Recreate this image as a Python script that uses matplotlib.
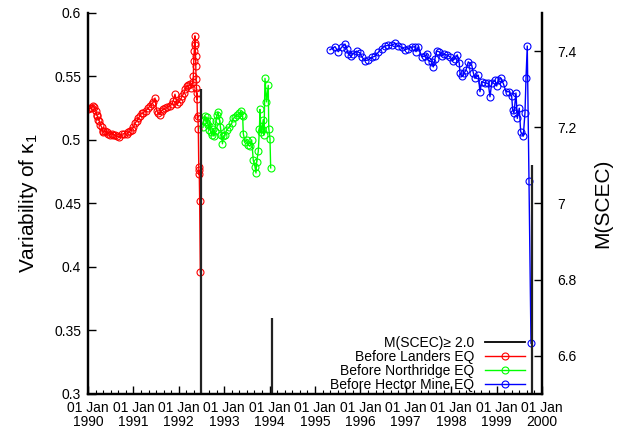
import matplotlib
matplotlib.use("Agg")
import matplotlib.pyplot as plt
from matplotlib.lines import Line2D
from matplotlib.ticker import FixedLocator, MultipleLocator

plt.rcParams['font.family'] = ['Liberation Sans', 'DejaVu Sans']
plt.rcParams['mathtext.fontset'] = 'custom'
plt.rcParams['mathtext.rm'] = 'Liberation Sans'
plt.rcParams['mathtext.it'] = 'Liberation Sans'

# times are decimal years
landers_t = [1990.007, 1990.045, 1990.081, 1990.11, 1990.139, 1990.176, 1990.19, 1990.205,
             1990.23, 1990.249, 1990.275, 1990.302, 1990.32, 1990.337, 1990.375, 1990.412,
             1990.45, 1990.485, 1990.52, 1990.56, 1990.595, 1990.64, 1990.689, 1990.742,
             1990.80, 1990.852, 1990.89, 1990.925, 1990.96, 1990.998, 1991.035, 1991.073,
             1991.11, 1991.145, 1991.18, 1991.218, 1991.27, 1991.328, 1991.365, 1991.403,
             1991.44, 1991.476, 1991.513, 1991.55, 1991.586, 1991.62, 1991.659, 1991.70,
             1991.747, 1991.80, 1991.844, 1991.88, 1991.916, 1991.967, 1992.00, 1992.042,
             1992.08, 1992.115, 1992.145, 1992.174, 1992.21, 1992.247, 1992.28, 1992.306,
             1992.32, 1992.33, 1992.34, 1992.35, 1992.355, 1992.36, 1992.37, 1992.375,
             1992.38, 1992.39, 1992.395, 1992.40, 1992.41, 1992.42, 1992.43, 1992.44,
             1992.445, 1992.45, 1992.46, 1992.475]
landers_v = [0.524, 0.525, 0.525, 0.527, 0.526, 0.523, 0.520, 0.519,
             0.516, 0.515, 0.512, 0.510, 0.507, 0.506, 0.507, 0.506,
             0.505, 0.504, 0.505, 0.504, 0.504, 0.503, 0.502, 0.5045,
             0.505, 0.5045, 0.506, 0.507, 0.508, 0.510, 0.513, 0.515,
             0.517, 0.519, 0.521, 0.5215, 0.523, 0.525, 0.527, 0.528,
             0.530, 0.533, 0.523, 0.521, 0.520, 0.523, 0.524, 0.525,
             0.526, 0.527, 0.528, 0.531, 0.536, 0.528, 0.530, 0.532,
             0.535, 0.537, 0.540, 0.5425, 0.543, 0.544, 0.541, 0.546,
             0.550, 0.562, 0.570, 0.576, 0.582, 0.575, 0.566, 0.558,
             0.548, 0.541, 0.532, 0.537, 0.5175, 0.519, 0.509, 0.479,
             0.473, 0.476, 0.452, 0.396]

northridge_t = [1992.533, 1992.555, 1992.577, 1992.599, 1992.621, 1992.643, 1992.665, 1992.687,
                1992.709, 1992.731, 1992.753, 1992.775, 1992.797, 1992.819, 1992.841, 1992.863,
                1992.896, 1992.918, 1992.940, 1992.962, 1992.984, 1993.017, 1993.055, 1993.112,
                1993.165, 1993.200, 1993.238, 1993.289, 1993.333, 1993.363, 1993.385, 1993.407,
                1993.421, 1993.458, 1993.496, 1993.531, 1993.568, 1993.606, 1993.641, 1993.678,
                1993.700, 1993.716, 1993.751, 1993.777, 1993.788, 1993.810, 1993.832, 1993.861,
                1993.877, 1993.899, 1993.932, 1993.971, 1993.982, 1994.009, 1994.024]
northridge_v = [0.510, 0.516, 0.519, 0.514, 0.518, 0.512, 0.508, 0.515,
                0.506, 0.504, 0.509, 0.503, 0.507, 0.515, 0.520, 0.522,
                0.516, 0.510, 0.504, 0.497, 0.503, 0.504, 0.508, 0.510,
                0.513, 0.517, 0.518, 0.520, 0.521, 0.5225, 0.520, 0.519,
                0.505, 0.4985, 0.500, 0.496, 0.495, 0.500, 0.484, 0.479,
                0.474, 0.483, 0.491, 0.509, 0.524, 0.506, 0.509, 0.516,
                0.504, 0.5485, 0.530, 0.543, 0.509, 0.501, 0.478]

hector_t = [1995.330, 1995.441, 1995.513, 1995.588, 1995.661, 1995.698, 1995.733, 1995.786,
            1995.844, 1995.919, 1995.991, 1996.029, 1996.101, 1996.174, 1996.249, 1996.322,
            1996.394, 1996.469, 1996.542, 1996.615, 1996.689, 1996.762, 1996.835, 1996.910,
            1996.982, 1997.055, 1997.130, 1997.203, 1997.225, 1997.275, 1997.350, 1997.423,
            1997.460, 1997.496, 1997.571, 1997.606, 1997.643, 1997.681, 1997.738, 1997.791,
            1997.841, 1997.901, 1997.974, 1998.033, 1998.084, 1998.134, 1998.178, 1998.194,
            1998.231, 1998.282, 1998.326, 1998.377, 1998.452, 1998.487, 1998.524, 1998.597,
            1998.634, 1998.672, 1998.744, 1998.817, 1998.855, 1998.892, 1998.965, 1999.002,
            1999.037, 1999.090, 1999.148, 1999.207, 1999.280, 1999.333, 1999.355, 1999.383,
            1999.427, 1999.456, 1999.500, 1999.531, 1999.588, 1999.626, 1999.648, 1999.676,
            1999.714, 1999.758]
hector_v = [0.571, 0.5735, 0.5695, 0.573, 0.5755, 0.572, 0.568, 0.566,
            0.568, 0.570, 0.5685, 0.5655, 0.5625, 0.563, 0.565, 0.566,
            0.569, 0.572, 0.574, 0.5745, 0.5745, 0.576, 0.574, 0.573,
            0.571, 0.572, 0.573, 0.5735, 0.5695, 0.5735, 0.5655, 0.566,
            0.5675, 0.5625, 0.5615, 0.5575, 0.564, 0.570, 0.5695, 0.566,
            0.5675, 0.567, 0.5655, 0.5625, 0.564, 0.567, 0.5605, 0.5525,
            0.550, 0.5525, 0.555, 0.5615, 0.559, 0.553, 0.5485, 0.551,
            0.538, 0.546, 0.545, 0.5445, 0.534, 0.5445, 0.547, 0.5425,
            0.5475, 0.5485, 0.5445, 0.538, 0.538, 0.5345, 0.5235, 0.521,
            0.537, 0.517, 0.525, 0.5065, 0.503, 0.5215, 0.5485, 0.574,
            0.468, 0.340]

eq_t = [1992.49, 1994.045, 1999.79]
eq_mag = [7.3, 6.7, 7.1]

years = list(range(1990, 2001))
year_labels = ["01 Jan\n%d" % y for y in years]

fig = plt.figure(figsize=(6.17, 4.32), dpi=100)
ax = fig.add_axes([0.1426, 0.088, 0.7358, 0.882])
ax2 = ax.twinx()

mk = dict(marker='o', markersize=5.0, markerfacecolor='none', markeredgewidth=0.8, linewidth=1.0)
ax.plot(landers_t, landers_v, color='#ff0000', label='Before Landers EQ', **mk)
ax.plot(northridge_t, northridge_v, color='#00ff00', label='Before Northridge EQ', **mk)
ax.plot(hector_t, hector_v, color='#0000ff', label='Before Hector Mine EQ', **mk)

ax2.vlines(eq_t, 6.5, eq_mag, color='#222222', linewidth=1.6)

ax.set_xlim(1990, 2000)
ax.set_ylim(0.3, 0.6)
ax2.set_ylim(6.5, 7.5)

ax.xaxis.set_major_locator(FixedLocator(years))
ax.set_xticklabels(year_labels, fontsize=10, linespacing=1.0)
ax.xaxis.set_minor_locator(MultipleLocator(1 / 6))
ax.set_yticks([0.3, 0.35, 0.4, 0.45, 0.5, 0.55, 0.6])
ax.set_yticklabels(['0.3', '0.35', '0.4', '0.45', '0.5', '0.55', '0.6'], fontsize=10)
ax2.set_yticks([6.6, 6.8, 7.0, 7.2, 7.4])
ax2.set_yticklabels(['6.6', '6.8', '7', '7.2', '7.4'], fontsize=10)

ax.tick_params(axis='both', which='major', direction='in', length=6, width=1, pad=5)
ax.tick_params(axis='x', which='minor', direction='in', length=3, width=0.8)
ax.tick_params(axis='y', which='both', right=False)
ax2.tick_params(axis='y', which='major', direction='in', length=6, width=1, pad=11)

for a in (ax, ax2):
    a.spines['top'].set_visible(False)
    for s in ('left', 'right', 'bottom'):
        a.spines[s].set_linewidth(1.6)

ax.set_ylabel('Variability of κ$_1$', fontsize=15, labelpad=10)
ax2.set_ylabel('M(SCEC)', fontsize=15, labelpad=12)

handles = [Line2D([], [], color='black', linewidth=1.3)]
handles += ax.get_legend_handles_labels()[0]
labels = ['M(SCEC)≥ 2.0', 'Before Landers EQ', 'Before Northridge EQ', 'Before Hector Mine EQ']
leg = ax2.legend(handles, labels, loc='lower right', markerfirst=False, frameon=False,
                 fontsize=10, handlelength=2.9, handletextpad=0.8, labelspacing=0.0,
                 borderaxespad=0.2, bbox_to_anchor=(0.982, -0.016))
for t in leg.get_texts():
    t.set_ha('right')

fig.savefig('out.png', dpi=100)
